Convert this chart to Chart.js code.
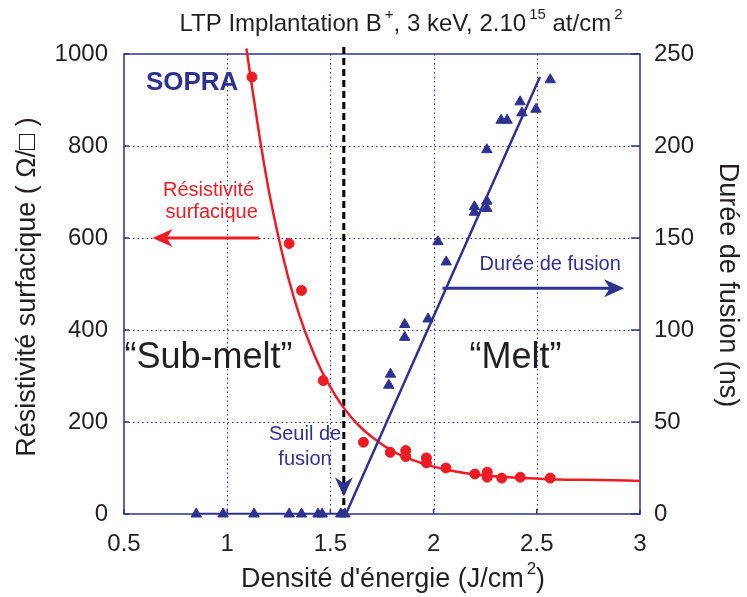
<!DOCTYPE html>
<html>
<head>
<meta charset="utf-8">
<script src="https://cdn.jsdelivr.net/npm/chart.js@4/dist/chart.umd.min.js"></script>
<style>
  html, body { margin: 0; padding: 0; background: #fff; }
  canvas { display: block; }
</style>
</head>
<body>
<canvas id="chart" width="747" height="597"></canvas>
<script>
// Résistivité surfacique (axe gauche, Ohm/carré)
const energyResist = [1.12, 1.30, 1.36, 1.465, 1.66, 1.79, 1.865, 1.865, 1.965, 1.965, 2.06, 2.20, 2.26, 2.26, 2.33, 2.42, 2.565];
const resistivity  = [950, 588, 486, 290, 156, 134, 138, 125, 122, 111, 100, 87, 91, 80, 78, 80, 78];

// courbe d'ajustement de la résistivité
const fitEnergy = [1.093, 1.15, 1.2, 1.25, 1.3, 1.35, 1.4, 1.45, 1.5, 1.55, 1.6, 1.65, 1.7, 1.8, 1.9, 2.0, 2.1, 2.2, 2.3, 2.4, 2.5, 2.6, 2.8, 3.0];
const fitResist = [1012, 840, 707, 599, 507, 432, 370, 318, 276, 240, 211, 187, 168, 137, 117, 103, 93, 86, 82, 79, 77, 75, 74, 72];

// Durée de fusion (axe droit, ns)
const energyMelt = [0.85, 0.98, 1.13, 1.30, 1.36, 1.44, 1.46, 1.55, 1.57, 1.783, 1.791, 1.86, 1.86, 1.973, 2.021, 2.061, 2.198, 2.198, 2.258, 2.258, 2.258, 2.327, 2.356, 2.419, 2.428, 2.496, 2.565];
const meltTime   = [0, 0, 0, 0, 0, 0, 0, 0, 0, 70, 76, 96, 103, 106, 148, 137, 167, 164, 170, 166, 198, 214, 214, 224, 218, 220, 236];

// droite d'ajustement de la durée de fusion
const meltFitEnergy = [0.85, 1.575, 2.515];
const meltFitTime   = [0, 0, 237.5];

// seuil de fusion
const thresholdEnergy = 1.565;
const thresholdRange  = [1015, 0];

// graduations
const xTicks  = [0.5, 1, 1.5, 2, 2.5, 3];
const yTicks  = [0, 200, 400, 600, 800, 1000];
const y2Ticks = [0, 50, 100, 150, 200, 250];

const RED = '#ec1c24';
const NAVY = '#2e3192';
const INK = '#231f20';
const FONT = "'Liberation Sans', Arial, Helvetica, sans-serif";

const pts = (xs, ys) => xs.map((x, i) => ({ x: x, y: ys[i] }));

// textes annotés (coordonnées en unités de données, axe gauche)
const notes = [
  { text: 'SOPRA', x: 0.83, y: 937, color: NAVY, size: 26, bold: true },
  { text: 'Résistivité', x: 0.91, y: 704, color: RED, size: 20 },
  { text: 'surfacique', x: 0.925, y: 656, color: RED, size: 20 },
  { text: '\u201cSub-melt\u201d', x: 0.909, y: 340, color: INK, size: 36 },
  { text: '\u201cMelt\u201d', x: 2.397, y: 340, color: INK, size: 36 },
  { text: 'Seuil de', x: 1.377, y: 172, color: NAVY, size: 20 },
  { text: 'fusion', x: 1.377, y: 118, color: NAVY, size: 20 },
  { text: 'Durée de fusion', x: 2.565, y: 542, color: NAVY, size: 20 }
];

function drawRich(ctx, parts, cx, cy, size, color, angle) {
  ctx.save();
  ctx.translate(cx, cy);
  ctx.rotate(angle || 0);
  ctx.fillStyle = color;
  ctx.textBaseline = 'middle';
  ctx.textAlign = 'left';
  const supSize = Math.round(size * 0.62);
  let total = 0;
  parts.forEach(p => {
    ctx.font = (p.sup ? supSize : size) + 'px ' + FONT;
    total += ctx.measureText(p.t).width + (p.sup ? 3 : 0);
  });
  let x = -total / 2;
  parts.forEach(p => {
    ctx.font = (p.sup ? supSize : size) + 'px ' + FONT;
    if (p.sup) x += 3;
    ctx.fillText(p.t, x, p.sup ? -size * 0.38 : 0);
    x += ctx.measureText(p.t).width;
  });
  ctx.restore();
}

function arrow(ctx, x1, y1, x2, y2, color, head, half) {
  const a = Math.atan2(y2 - y1, x2 - x1);
  ctx.save();
  ctx.strokeStyle = color;
  ctx.fillStyle = color;
  ctx.lineWidth = 3;
  ctx.beginPath();
  ctx.moveTo(x1, y1);
  ctx.lineTo(x2 - Math.cos(a) * head * 0.7, y2 - Math.sin(a) * head * 0.7);
  ctx.stroke();
  ctx.translate(x2, y2);
  ctx.rotate(a);
  ctx.beginPath();
  ctx.moveTo(0, 0);
  ctx.lineTo(-head, -half);
  ctx.lineTo(-head * 0.72, 0);
  ctx.lineTo(-head, half);
  ctx.closePath();
  ctx.fill();
  ctx.restore();
}

const overlay = {
  id: 'overlay',
  beforeDatasetsDraw(chart) {
    const { ctx, chartArea: a, scales } = chart;
    ctx.save();
    ctx.strokeStyle = NAVY;
    ctx.lineWidth = 1;
    ctx.setLineDash([1.5, 3]);
    xTicks.slice(1, -1).forEach(v => {
      const px = Math.round(scales.x.getPixelForValue(v)) + 0.5;
      ctx.beginPath(); ctx.moveTo(px, a.top); ctx.lineTo(px, a.bottom); ctx.stroke();
    });
    yTicks.slice(1, -1).forEach(v => {
      const py = Math.round(scales.y.getPixelForValue(v)) + 0.5;
      ctx.beginPath(); ctx.moveTo(a.left, py); ctx.lineTo(a.right, py); ctx.stroke();
    });
    ctx.setLineDash([]);
    ctx.lineWidth = 1.5;
    ctx.strokeRect(a.left, a.top, a.right - a.left, a.bottom - a.top);
    // petites graduations intérieures
    y2Ticks.forEach(v => {
      const py = scales.y2.getPixelForValue(v);
      ctx.beginPath(); ctx.moveTo(a.right - 9, py); ctx.lineTo(a.right, py); ctx.stroke();
    });
    yTicks.forEach(v => {
      const py = scales.y.getPixelForValue(v);
      ctx.beginPath(); ctx.moveTo(a.left, py); ctx.lineTo(a.left + 5, py); ctx.stroke();
    });
    xTicks.forEach(v => {
      const px = scales.x.getPixelForValue(v);
      ctx.beginPath(); ctx.moveTo(px, a.bottom); ctx.lineTo(px, a.bottom - 5); ctx.stroke();
    });
    ctx.restore();
  },
  afterDatasetsDraw(chart) {
    const { ctx, scales: { x, y } } = chart;
    // flèches
    arrow(ctx, x.getPixelForValue(1.155), y.getPixelForValue(600), x.getPixelForValue(0.638), y.getPixelForValue(600), RED, 20, 9);
    arrow(ctx, x.getPixelForValue(2.043), y.getPixelForValue(491), x.getPixelForValue(2.923), y.getPixelForValue(491), NAVY, 20, 9);
    // pointe de flèche du seuil
    const tx = x.getPixelForValue(thresholdEnergy);
    const tip = y.getPixelForValue(38);
    const base = y.getPixelForValue(80);
    ctx.save();
    ctx.fillStyle = NAVY;
    ctx.beginPath();
    ctx.moveTo(tx, tip);
    ctx.lineTo(tx - 9, base);
    ctx.lineTo(tx, base + 6);
    ctx.lineTo(tx + 9, base);
    ctx.closePath();
    ctx.fill();
    ctx.restore();
    // textes
    notes.forEach(n => {
      ctx.save();
      ctx.font = (n.bold ? 'bold ' : '') + n.size + 'px ' + FONT;
      ctx.fillStyle = n.color;
      ctx.textAlign = 'center';
      ctx.textBaseline = 'middle';
      ctx.fillText(n.text, x.getPixelForValue(n.x), y.getPixelForValue(n.y));
      ctx.restore();
    });
  },
  afterDraw(chart) {
    drawRich(chart.ctx, [{ t: 'LTP Implantation B' }, { t: '+', sup: true }, { t: ', 3 keV, 2.10' }, { t: '15', sup: true }, { t: ' at/cm' }, { t: '2', sup: true }],
      401, 24, 24, INK, 0);
    drawRich(chart.ctx, [{ t: "Densité d'énergie (J/cm" }, { t: '2', sup: true }, { t: ')' }],
      393, 580, 27, INK, 0);
    drawRich(chart.ctx, [{ t: 'Résistivité surfacique ( \u03a9/\u25a1 )' }], 28, 287, 27, INK, -Math.PI / 2);
    drawRich(chart.ctx, [{ t: 'Durée de fusion (ns)' }], 727, 285, 27, INK, Math.PI / 2);
  }
};

const ctx = document.getElementById('chart').getContext('2d');
new Chart(ctx, {
  type: 'scatter',
  data: {
    datasets: [
      {
        type: 'line',
        label: 'Seuil de fusion',
        data: [{ x: thresholdEnergy, y: thresholdRange[0] }, { x: thresholdEnergy, y: thresholdRange[1] }],
        borderColor: '#000',
        borderWidth: 3,
        borderDash: [7, 4],
        pointRadius: 0,
        yAxisID: 'y',
        clip: false,
        order: 5
      },
      {
        type: 'line',
        label: 'Ajustement résistivité',
        data: pts(fitEnergy, fitResist),
        borderColor: RED,
        borderWidth: 2.5,
        pointRadius: 0,
        tension: 0.4,
        cubicInterpolationMode: 'monotone',
        yAxisID: 'y',
        clip: false,
        order: 4
      },
      {
        type: 'line',
        label: 'Ajustement durée de fusion',
        data: pts(meltFitEnergy, meltFitTime),
        borderColor: NAVY,
        borderWidth: 2.5,
        pointRadius: 0,
        tension: 0,
        yAxisID: 'y2',
        order: 3
      },
      {
        label: 'Résistivité surfacique',
        data: pts(energyResist, resistivity),
        backgroundColor: RED,
        borderColor: RED,
        pointRadius: 5,
        pointStyle: 'circle',
        yAxisID: 'y',
        order: 2
      },
      {
        label: 'Durée de fusion',
        data: pts(energyMelt, meltTime),
        backgroundColor: NAVY,
        borderColor: NAVY,
        pointRadius: 6,
        pointStyle: 'triangle',
        yAxisID: 'y2',
        clip: false,
        order: 1
      }
    ]
  },
  options: {
    responsive: false,
    animation: false,
    devicePixelRatio: 1,
    layout: { padding: { top: 54, left: 0, right: 0, bottom: 0 } },
    plugins: {
      legend: { display: false },
      tooltip: { enabled: false }
    },
    scales: {
      x: {
        type: 'linear',
        min: 0.5,
        max: 3,
        afterBuildTicks: s => { s.ticks = xTicks.map(v => ({ value: v })); },
        afterFit: s => { s.height = 83; },
        ticks: {
          color: INK,
          font: { family: FONT, size: 24 },
          padding: 8,
          callback: v => String(v)
        },
        grid: { display: false },
        border: { display: false }
      },
      y: {
        position: 'left',
        min: 0,
        max: 1000,
        afterBuildTicks: s => { s.ticks = yTicks.map(v => ({ value: v })); },
        afterFit: s => { s.width = 124; },
        ticks: {
          color: INK,
          font: { family: FONT, size: 24 },
          padding: 8,
          callback: v => String(v)
        },
        grid: { display: false },
        border: { display: false }
      },
      y2: {
        position: 'right',
        min: 0,
        max: 250,
        afterBuildTicks: s => { s.ticks = y2Ticks.map(v => ({ value: v })); },
        afterFit: s => { s.width = 107; },
        ticks: {
          color: INK,
          font: { family: FONT, size: 24 },
          padding: 6,
          callback: v => String(v)
        },
        grid: { display: false },
        border: { display: false }
      }
    }
  },
  plugins: [overlay]
});
</script>
</body>
</html>
